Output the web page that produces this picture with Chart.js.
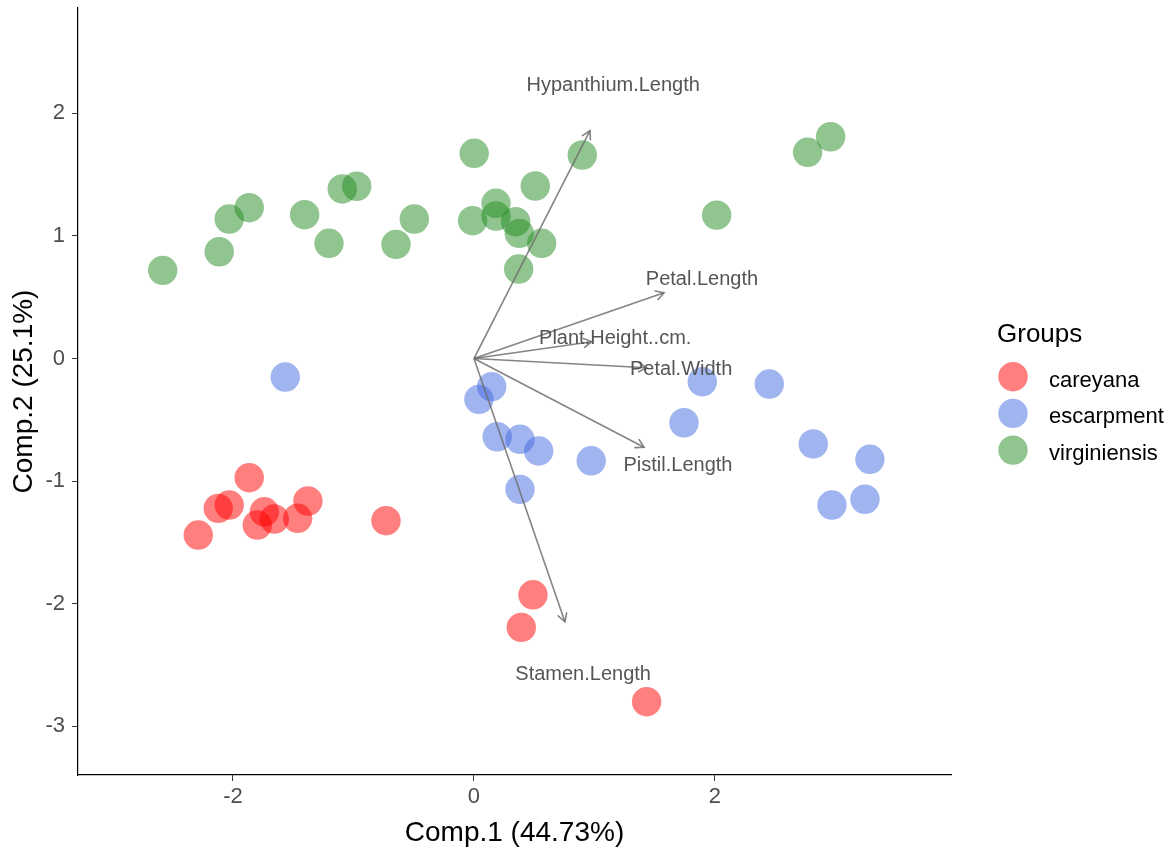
<!DOCTYPE html>
<html>
<head>
<meta charset="utf-8">
<title>PCA biplot</title>
<script src="https://cdn.jsdelivr.net/npm/chart.js@4/dist/chart.umd.min.js"></script>
<style>
  html, body { margin: 0; padding: 0; background: #ffffff; }
  #wrap { width: 1171px; height: 851px; position: relative; }
</style>
</head>
<body>
<div id="wrap"><canvas id="biplot"></canvas></div>
<script>
// Individuals: principal component scores per group
const groupNames = ['careyana', 'escarpment', 'virginiensis'];

const careyanaX = [-1.865, -2.122, -2.031, -2.288, -1.740, -1.798, -1.657, -1.378, -1.463, -0.730, 0.490, 0.393, 1.433];
const careyanaY = [-0.972, -1.222, -1.195, -1.440, -1.250, -1.358, -1.309, -1.162, -1.303, -1.323, -1.927, -2.193, -2.799];

const escarpmentX = [-1.566, 0.147, 0.041, 0.193, 0.382, 0.537, 0.382, 0.973, 1.895, 1.743, 2.451, 2.816, 3.286, 3.245, 2.971];
const escarpmentY = [-0.151, -0.230, -0.333, -0.638, -0.659, -0.754, -1.067, -0.834, -0.189, -0.524, -0.208, -0.697, -0.822, -1.148, -1.195];

const virginiensisX = [-2.583, -2.114, -2.031, -1.865, -1.405, -1.203, -1.093, -0.973, -0.647, -0.495, 0.002, -0.011, 0.183, 0.183, 0.346, 0.376, 0.562, 0.371, 0.509, 0.899, 2.014, 2.769, 2.960];
const virginiensisY = [0.719, 0.871, 1.138, 1.230, 1.173, 0.940, 1.383, 1.405, 0.931, 1.138, 1.674, 1.124, 1.266, 1.162, 1.116, 1.021, 0.940, 0.730, 1.407, 1.660, 1.170, 1.682, 1.809];

// Variables: loading arrows
const varNames = ['Hypanthium.Length', 'Petal.Length', 'Plant.Height..cm.', 'Petal.Width', 'Pistil.Length', 'Stamen.Length'];
const varX = [0.963, 1.577, 0.977, 1.433, 1.411, 0.755];
const varY = [1.858, 0.537, 0.137, -0.075, -0.724, -2.147];

// Axis ticks and titles
const xTicks = [-2, 0, 2];
const yTicks = [-3, -2, -1, 0, 1, 2];
const xTitle = 'Comp.1 (44.73%)';
const yTitle = 'Comp.2 (25.1%)';
const legendTitle = 'Groups';

const FONT = "'Liberation Sans', Arial, Helvetica, sans-serif";
const groupColors = ['rgba(255,0,0,0.5)', 'rgba(65,105,225,0.5)', 'rgba(34,139,34,0.5)'];
const LABEL_SCALE = 1.2;

function zip(xs, ys) { return xs.map((x, i) => ({ x: x, y: ys[i] })); }

const pointSets = [
  zip(careyanaX, careyanaY),
  zip(escarpmentX, escarpmentY),
  zip(virginiensisX, virginiensisY)
];

const datasets = [];
pointSets.forEach((pts, g) => {
  datasets.push({
    type: 'scatter',
    label: groupNames[g],
    data: pts,
    backgroundColor: groupColors[g],
    borderWidth: 0,
    pointRadius: 14.7,
    pointHoverRadius: 14.7,
    order: 2
  });
});
varNames.forEach((name, i) => {
  datasets.push({
    type: 'line',
    label: name,
    data: [{ x: 0, y: 0 }, { x: varX[i], y: varY[i] }],
    borderColor: 'rgba(110,110,110,0.85)',
    borderWidth: 1.6,
    pointRadius: 0,
    fill: false,
    order: 1
  });
});

// Arrow heads, variable names and the group legend
const biplotDecor = {
  id: 'biplotDecor',
  afterDatasetsDraw(chart) {
    const ctx = chart.ctx;
    const xs = chart.scales.x, ys = chart.scales.y;
    ctx.save();
    ctx.strokeStyle = 'rgba(110,110,110,0.85)';
    ctx.lineWidth = 1.6;
    ctx.lineCap = 'round';
    const headLen = 9, headAng = Math.PI / 6;
    varNames.forEach((name, i) => {
      const x0 = xs.getPixelForValue(0), y0 = ys.getPixelForValue(0);
      const x1 = xs.getPixelForValue(varX[i]), y1 = ys.getPixelForValue(varY[i]);
      const a = Math.atan2(y1 - y0, x1 - x0);
      ctx.beginPath();
      ctx.moveTo(x1 - headLen * Math.cos(a - headAng), y1 - headLen * Math.sin(a - headAng));
      ctx.lineTo(x1, y1);
      ctx.lineTo(x1 - headLen * Math.cos(a + headAng), y1 - headLen * Math.sin(a + headAng));
      ctx.stroke();
    });
    ctx.fillStyle = '#555555';
    ctx.font = '20px ' + FONT;
    ctx.textAlign = 'center';
    ctx.textBaseline = 'middle';
    varNames.forEach((name, i) => {
      const lx = xs.getPixelForValue(varX[i] * LABEL_SCALE);
      const ly = ys.getPixelForValue(varY[i] * LABEL_SCALE);
      ctx.fillText(name, lx, ly);
    });
    ctx.restore();
  },
  afterDraw(chart) {
    const ctx = chart.ctx;
    ctx.save();
    ctx.fillStyle = '#000000';
    ctx.textAlign = 'left';
    ctx.textBaseline = 'alphabetic';
    ctx.font = '26px ' + FONT;
    ctx.fillText(legendTitle, 997, 342);
    ctx.font = '22px ' + FONT;
    groupNames.forEach((name, g) => {
      const cy = 376.7 + g * 36.7;
      ctx.beginPath();
      ctx.arc(1013, cy, 14.7, 0, Math.PI * 2);
      ctx.fillStyle = groupColors[g];
      ctx.fill();
      ctx.fillStyle = '#000000';
      ctx.fillText(name, 1049, cy + 10);
    });
    ctx.restore();
  }
};

new Chart(document.getElementById('biplot'), {
  type: 'scatter',
  data: { datasets: datasets },
  plugins: [biplotDecor],
  options: {
    responsive: true,
    maintainAspectRatio: false,
    animation: false,
    events: [],
    layout: { autoPadding: false, padding: { left: 0, top: 8, right: 220, bottom: 0 } },
    plugins: {
      legend: { display: false },
      tooltip: { enabled: false }
    },
    scales: {
      x: {
        type: 'linear',
        position: 'bottom',
        min: -3.286,
        max: 3.959,
        afterBuildTicks(scale) { scale.ticks = xTicks.map(v => ({ value: v })); },
        afterFit(scale) { scale.height = 76; scale.paddingLeft = 0; scale.paddingRight = 0; },
        grid: { display: true, drawOnChartArea: false, drawTicks: true, tickLength: 6, color: '#333333', lineWidth: 1 },
        border: { display: true, color: '#000000', width: 1.2 },
        ticks: { color: '#4D4D4D', font: { family: FONT, size: 22 }, padding: 3, maxRotation: 0 },
        title: { display: true, text: xTitle, color: '#000000', font: { family: FONT, size: 28 }, padding: { top: 0, bottom: 1 } }
      },
      y: {
        type: 'linear',
        position: 'left',
        min: -3.397,
        max: 2.859,
        afterBuildTicks(scale) { scale.ticks = yTicks.map(v => ({ value: v })); },
        afterFit(scale) { scale.width = 78; scale.paddingTop = 0; scale.paddingBottom = 0; },
        grid: { display: true, drawOnChartArea: false, drawTicks: true, tickLength: 6, color: '#333333', lineWidth: 1 },
        border: { display: true, color: '#000000', width: 1.2 },
        ticks: { color: '#4D4D4D', font: { family: FONT, size: 22 }, padding: 7 },
        title: { display: true, text: yTitle, color: '#000000', font: { family: FONT, size: 28 }, padding: { top: 7, bottom: 0 } }
      }
    }
  }
});
</script>
</body>
</html>
